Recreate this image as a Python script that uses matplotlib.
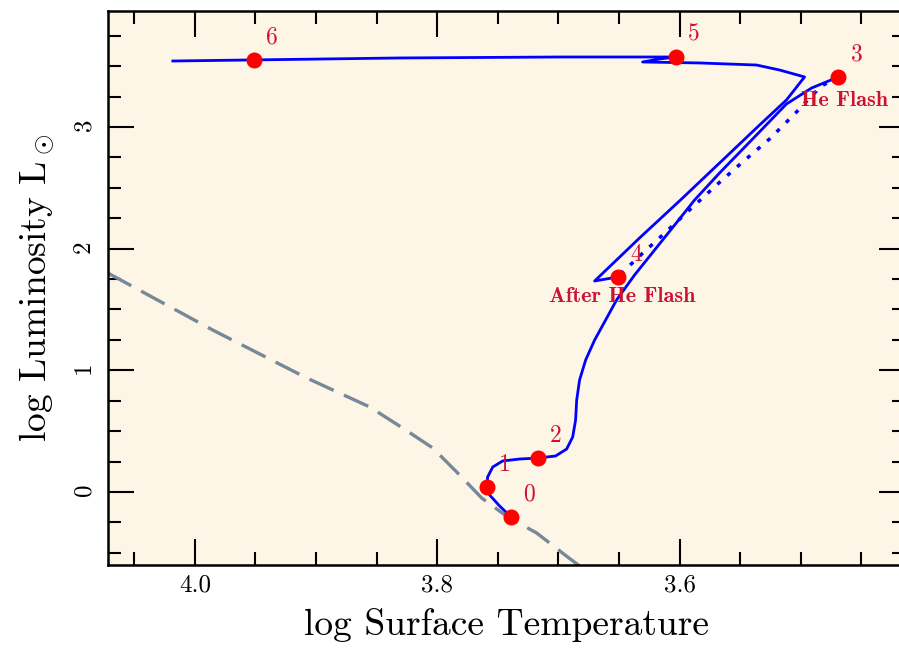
import matplotlib
matplotlib.use('Agg')
import matplotlib.pyplot as plt
from matplotlib.ticker import MultipleLocator, FormatStrFormatter

plt.rcParams['font.family'] = 'cmr10'
plt.rcParams['mathtext.fontset'] = 'cm'
plt.rcParams['axes.unicode_minus'] = False
plt.rcParams['axes.formatter.use_mathtext'] = True

# main sequence -> red giant branch -> tip (point 3)
rgb_t = [3.739, 3.7485, 3.7567, 3.759, 3.7584, 3.7542, 3.746, 3.732, 3.717,
         3.7023, 3.6932, 3.6882, 3.6858, 3.6849, 3.6825, 3.6775, 3.6701,
         3.6610, 3.6520, 3.6371, 3.6206, 3.6041, 3.5876, 3.5670, 3.5381,
         3.5118, 3.4911, 3.469]
rgb_l = [-0.205, -0.115, -0.025, 0.041, 0.123, 0.205, 0.255, 0.271, 0.279,
         0.296, 0.353, 0.452, 0.592, 0.756, 0.921, 1.085, 1.249,
         1.414, 1.578, 1.784, 1.989, 2.194, 2.400, 2.622, 2.918,
         3.189, 3.320, 3.411]

# after the flash: horizontal branch, AGB, post-AGB
agb_t = [3.651, 3.6701, 3.6330, 3.5992, 3.5670, 3.5340, 3.5118, 3.4969,
         3.5175, 3.5365, 3.5835, 3.6305, 3.6165, 3.603, 3.6990, 3.8309,
         3.951, 4.0181]
agb_l = [1.767, 1.734, 2.088, 2.400, 2.704, 3.016, 3.222, 3.411,
         3.468, 3.509, 3.526, 3.534, 3.559, 3.575, 3.575, 3.567,
         3.551, 3.542]

# He flash jump (dotted)
flash_t = [3.469, 3.4829, 3.4928, 3.5035, 3.5258, 3.5480, 3.5695, 3.5918,
           3.6140, 3.6330, 3.651]
flash_l = [3.411, 3.337, 3.238, 3.123, 2.901, 2.712, 2.523, 2.318,
           2.112, 1.940, 1.767]

# grey dashed line
zams_t = [4.0718, 3.9852, 3.9076, 3.8557, 3.8285, 3.8037, 3.7839, 3.7633,
          3.7419, 3.7179, 3.6924, 3.6825]
zams_l = [1.800, 1.331, 0.937, 0.699, 0.526, 0.362, 0.164, -0.049,
          -0.205, -0.337, -0.534, -0.608]

# numbered stages
pt_names = ['0', '1', '2', '3', '4', '5', '6']
pt_t = [3.739, 3.759, 3.717, 3.469, 3.651, 3.603, 3.951]
pt_l = [-0.205, 0.041, 0.279, 3.411, 1.767, 3.575, 3.551]

notes = ['He Flash', 'After He Flash']
note_t = [3.464, 3.647]
note_l = [3.214, 1.603]

red_txt = '#cc1133'

fig = plt.figure(figsize=(8.99, 6.51), dpi=100)
ax = fig.add_axes([0.1196, 0.1321, 0.8871, 0.851])
ax.set_facecolor('#fdf5e6')

ax.plot(zams_t, zams_l, color='#778899', lw=2.4, linestyle=(0, (8, 3.4)))
ax.plot(rgb_t, rgb_l, color='#0000ff', lw=2)
ax.plot(agb_t, agb_l, color='#0000ff', lw=2)
ax.plot(flash_t, flash_l, color='#0000ff', lw=2.5, linestyle=(0, (1.2, 2.6)))
ax.plot(pt_t, pt_l, 'o', color='red', ms=10.5, ls='none', zorder=5)

for name, t, l in zip(pt_names, pt_t, pt_l):
    ax.annotate(name, (t, l), xytext=(13, 16), textcoords='offset points',
                ha='center', va='center', fontsize=17, color=red_txt)

for txt, t, l in zip(notes, note_t, note_l):
    ax.text(t, l, txt, ha='center', va='center', fontsize=16,
            color=red_txt, family='cmb10')

ax.set_xlim(4.072, 3.414)
ax.set_ylim(-0.60, 3.953)

ax.xaxis.set_major_locator(MultipleLocator(0.2))
ax.xaxis.set_minor_locator(MultipleLocator(0.05))
ax.xaxis.set_major_formatter(FormatStrFormatter('%.1f'))
ax.yaxis.set_major_locator(MultipleLocator(1))
ax.yaxis.set_minor_locator(MultipleLocator(0.25))
ax.yaxis.set_major_formatter(FormatStrFormatter('%d'))

ax.tick_params(which='both', direction='in', top=True, right=True, width=1.5)
ax.tick_params(which='major', length=18.5)
ax.tick_params(which='minor', length=9.4)
ax.tick_params(axis='x', labelsize=18, pad=7)
ax.tick_params(axis='y', labelsize=18, pad=9, labelrotation=90)
for s in ax.spines.values():
    s.set_linewidth(1.8)

ax.set_xlabel('log Surface Temperature', fontsize=27, labelpad=8)
ax.set_ylabel(r'log Luminosity L$_\odot$', fontsize=27, labelpad=12)

fig.savefig('out.png', dpi=100)
